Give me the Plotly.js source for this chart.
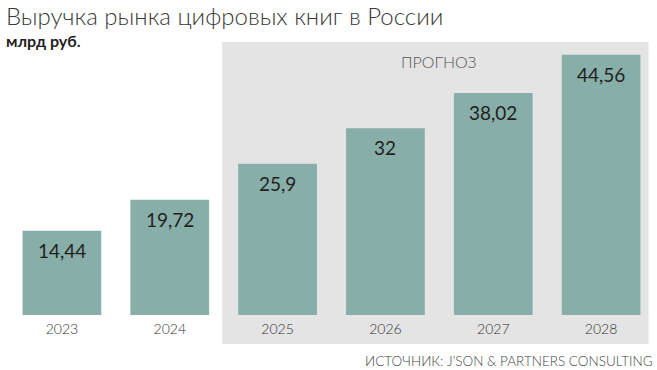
<!DOCTYPE html>
<html><head><meta charset="utf-8">
<script src="https://cdn.plot.ly/plotly-3.0.1.min.js"></script>
<style>html,body{margin:0;padding:0;background:#fff;}#chart{width:657px;height:370px;}</style>
</head><body><div id="chart"></div>
<script>
const years = ['2023','2024','2025','2026','2027','2028'];
const values = [14.44, 19.72, 25.9, 32, 38.02, 44.56];
const valueLabels = ['14,44','19,72','25,9','32','38,02','44,56'];
const titleText = 'Выручка рынка цифровых книг в России';
const unitText = 'млрд руб.';
const forecastText = 'ПРОГНОЗ';
const sourceText = 'ИСТОЧНИК: J\u2019SON & PARTNERS CONSULTING';

const FONT = 'Lato, Open Sans, Noto Sans, DejaVu Sans, sans-serif';

const trace = {
  type: 'bar', x: years, y: values,
  marker: {color: '#87aea9'},
  width: 0.73,
  hoverinfo: 'skip'
};

const annotations = years.map((yr, i) => ({
  x: i, y: values[i], xref: 'x', yref: 'y',
  text: valueLabels[i], showarrow: false,
  yanchor: 'top', yshift: -6,
  font: {family: FONT, size: 19, color: '#231f1c'}
}));
annotations.push(
  {xref: 'paper', yref: 'paper', x: 0, y: 1, xanchor: 'left', yanchor: 'top',
   xshift: -3, yshift: 42, text: titleText, showarrow: false, borderpad: 0,
   font: {family: FONT, size: 24, color: '#3a3a3a', weight: 300}},
  {xref: 'paper', yref: 'paper', x: 0, y: 1, xanchor: 'left', yanchor: 'bottom',
   xshift: -3, yshift: -9, text: '<b>' + unitText + '</b>', showarrow: false, borderpad: 0,
   font: {family: FONT, size: 16, color: '#1e1e1e'}},
  {xref: 'x', yref: 'paper', x: 3.5, y: 1, yanchor: 'top', yshift: -8,
   text: forecastText, showarrow: false,
   font: {family: FONT, size: 16, color: '#555', weight: 300}},
  {xref: 'paper', yref: 'paper', x: 1, y: 0, xanchor: 'right', yanchor: 'top',
   yshift: -36, xshift: 0, text: sourceText, showarrow: false,
   font: {family: FONT, size: 13.5, color: '#444', weight: 300}}
);

const layout = {
  width: 657, height: 370,
  margin: {l: 7.5, r: 1.5, t: 42, b: 55, pad: 0},
  paper_bgcolor: '#ffffff', plot_bgcolor: 'rgba(0,0,0,0)',
  showlegend: false,
  xaxis: {type: 'category', range: [-0.5, 5.5], showgrid: false, zeroline: false,
          showline: false, ticks: '', fixedrange: true, ticklabelstandoff: 4,
          tickfont: {family: FONT, size: 14, color: '#333', weight: 300}},
  yaxis: {range: [0, 46.75], visible: false, showgrid: false, zeroline: false, fixedrange: true},
  shapes: [{type: 'rect', layer: 'below', xref: 'x', yref: 'paper',
            x0: 1.486, x1: 5.44, y0: -29/273, y1: 1,
            fillcolor: '#e4e4e4', line: {width: 0}}],
  annotations: annotations
};

Plotly.newPlot('chart', [trace], layout, {displayModeBar: false, staticPlot: true});
</script></body></html>
